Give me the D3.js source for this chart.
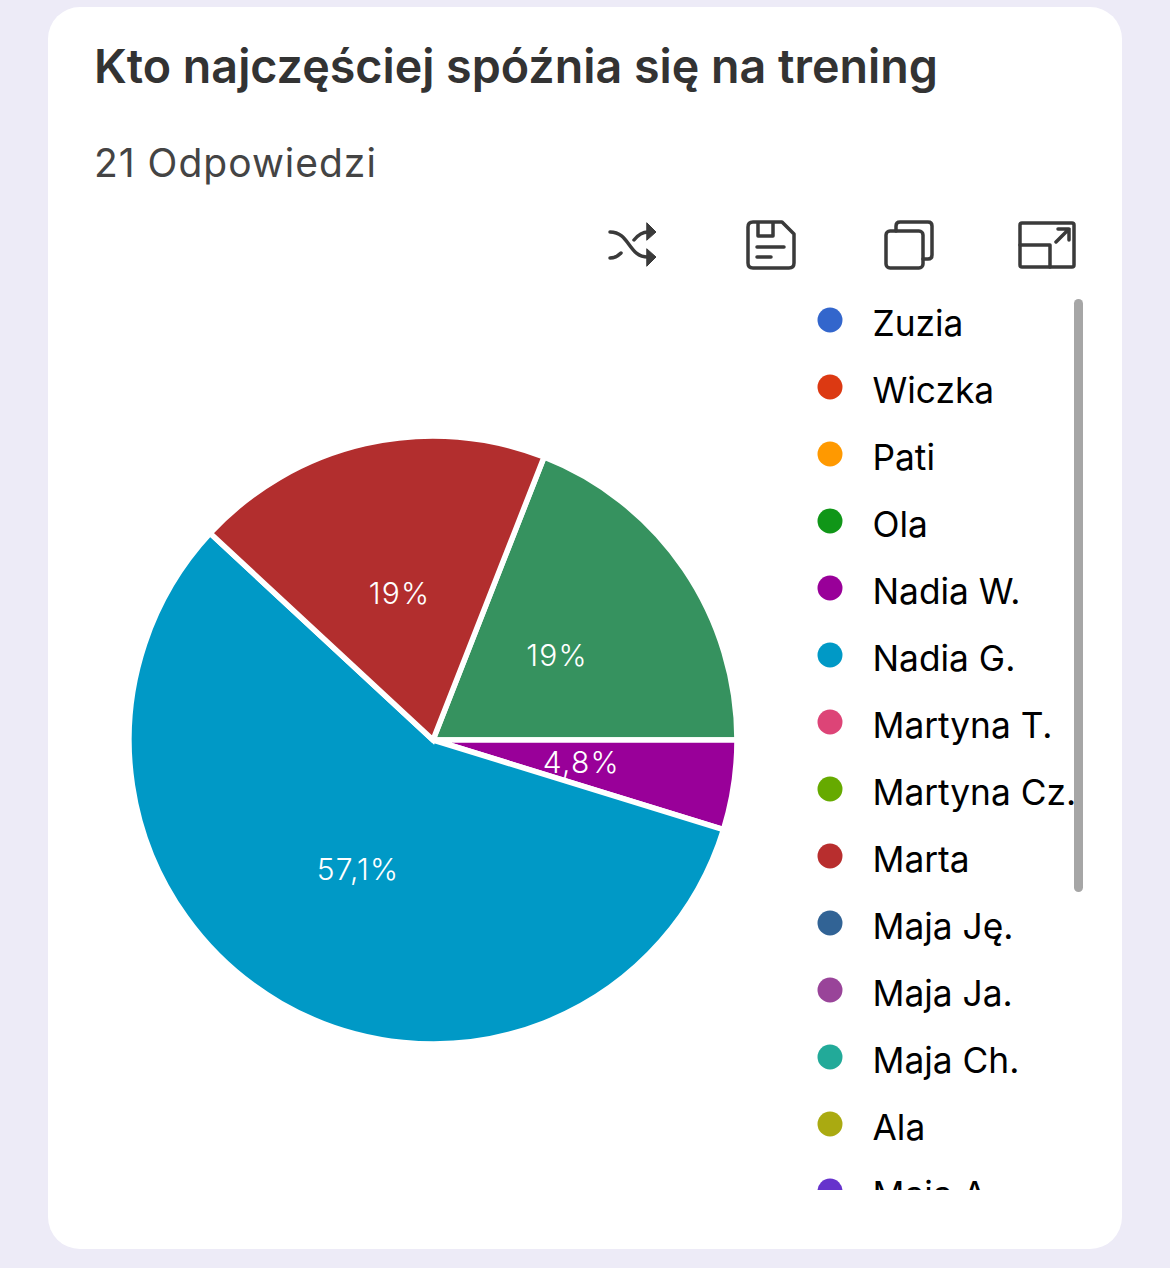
<!DOCTYPE html>
<html>
<head>
<meta charset="utf-8">
<script src="https://cdn.jsdelivr.net/npm/d3@7"></script>
<style>
html, body { margin: 0; padding: 0; background: #edebf7; }
svg { display: block; }
text { font-family: Inter, "Noto Sans", sans-serif; }
</style>
</head>
<body>
<div id="chart"></div>
<script>
const names = ["Zuzia", "Wiczka", "Pati", "Ola", "Nadia W.", "Nadia G.", "Martyna T.", "Martyna Cz.", "Marta", "Maja Ję.", "Maja Ja.", "Maja Ch.", "Ala", "Maja A."];
const colors = ["#3366cc", "#dc3912", "#ff9900", "#109618", "#990099", "#0099c6", "#dd4477", "#66aa00", "#b82e2e", "#316395", "#994499", "#22aa99", "#aaaa11", "#6633cc"];
const votes = [0, 0, 0, 4, 1, 12, 0, 0, 4, 0, 0, 0, 0, 0];
const pieColors = { "Ola": "#36925f", "Nadia W.": "#990099", "Nadia G.": "#0099c6", "Marta": "#b22e2e" };
const labels = { "Ola": "19%", "Nadia W.": "4,8%", "Nadia G.": "57,1%", "Marta": "19%" };

const svg = d3.select("#chart").append("svg").attr("width", 1170).attr("height", 1268);

// card
svg.append("rect").attr("x", 48).attr("y", 7).attr("width", 1074).attr("height", 1242).attr("rx", 32).attr("fill", "#fff");

svg.append("text").attr("x", 94).attr("y", 83).attr("font-size", 46.6).attr("font-weight", 600).attr("fill", "#333").text("Kto najczęściej spóźnia się na trening");
svg.append("text").attr("x", 94).attr("y", 177).attr("font-size", 39).attr("letter-spacing", 1).attr("fill", "#444").text("21 Odpowiedzi");

// pie, Ola comes first so that it ends on the horizontal
const data = names.map((n, i) => ({ name: n, value: votes[i], color: colors[i] }));
const total = d3.sum(votes);
const start = Math.PI / 2 - 2 * Math.PI * votes[3] / total;
const pie = d3.pie().sort(null).value(d => d.value).startAngle(start).endAngle(start + Math.PI * 2);
const radius = 304;
const arc = d3.arc().innerRadius(0).outerRadius(radius);
const labelArc = d3.arc().innerRadius(300 * 0.5).outerRadius(300 * 0.5);
const g = svg.append("g").attr("transform", "translate(433,740)");
const slices = pie(data).filter(d => d.data.value > 0);

g.selectAll("path").data(slices).join("path")
  .attr("d", arc)
  .attr("fill", d => pieColors[d.data.name])
  .attr("stroke", "#fff")
  .attr("stroke-width", 5.5);

g.selectAll("text").data(slices).join("text")
  .attr("transform", d => "translate(" + labelArc.centroid(d) + ")")
  .attr("text-anchor", "middle")
  .attr("dy", "0.35em")
  .attr("font-size", 30)
  .attr("font-weight", 300)
  .attr("letter-spacing", 1.2)
  .attr("fill", "#fff")
  .text(d => labels[d.data.name]);

// legend, clipped like the scroll area
svg.append("clipPath").attr("id", "legend-clip").append("rect").attr("x", 800).attr("y", 298).attr("width", 276).attr("height", 892);
const legendY = d3.scalePoint().domain(names).range([323, 323 + 67 * (names.length - 1)]);
const legend = svg.append("g").attr("clip-path", "url(#legend-clip)");
const rows = legend.selectAll("g").data(data).join("g")
  .attr("transform", d => "translate(0," + legendY(d.name) + ")");
rows.append("circle").attr("cx", 830).attr("cy", -3).attr("r", 12.5).attr("fill", d => d.color);
rows.append("text").attr("x", 872.5).attr("y", 13).attr("font-size", 35.3).attr("fill", "#000").text(d => d.name);

// scrollbar
svg.append("rect").attr("x", 1074).attr("y", 299).attr("width", 9).attr("height", 593).attr("rx", 4.5).attr("fill", "#a6a6a6");

// toolbar icons
const icons = svg.append("g").attr("fill", "none").attr("stroke", "#3a3a3a").attr("stroke-width", 3.5).attr("stroke-linecap", "round").attr("stroke-linejoin", "round");
// shuffle
icons.append("path").attr("d", "M610 232 C630 232 628 257 648 257 M610 258 C614 258 618 256 621 253 M634 240 C638 235 642 232 648 232");
icons.append("path").attr("fill", "#3a3a3a").attr("stroke-width", 1).attr("d", "M647 223 L656 232 L647 240 Z M647 249 L656 257 L647 266 Z");
// save
icons.append("path").attr("d", "M753 222 H782 L794 234 V263 Q794 268 789 268 H753 Q748 268 748 263 V227 Q748 222 753 222 Z M758 222 V236 H773 V222 M757 247 H784 M757 257 H771");
// copy
icons.append("rect").attr("x", 886).attr("y", 231).attr("width", 37).attr("height", 37).attr("rx", 4);
icons.append("path").attr("d", "M896 231 V226 Q896 222 900 222 H928 Q932 222 932 226 V255 Q932 259 928 259 H923");
// expand
icons.append("rect").attr("x", 1020).attr("y", 223).attr("width", 54).attr("height", 44).attr("rx", 2);
icons.append("path").attr("d", "M1020 245 H1050 V267 M1056 242 L1069 229 M1058 229 H1069 V240");
</script>
</body>
</html>
